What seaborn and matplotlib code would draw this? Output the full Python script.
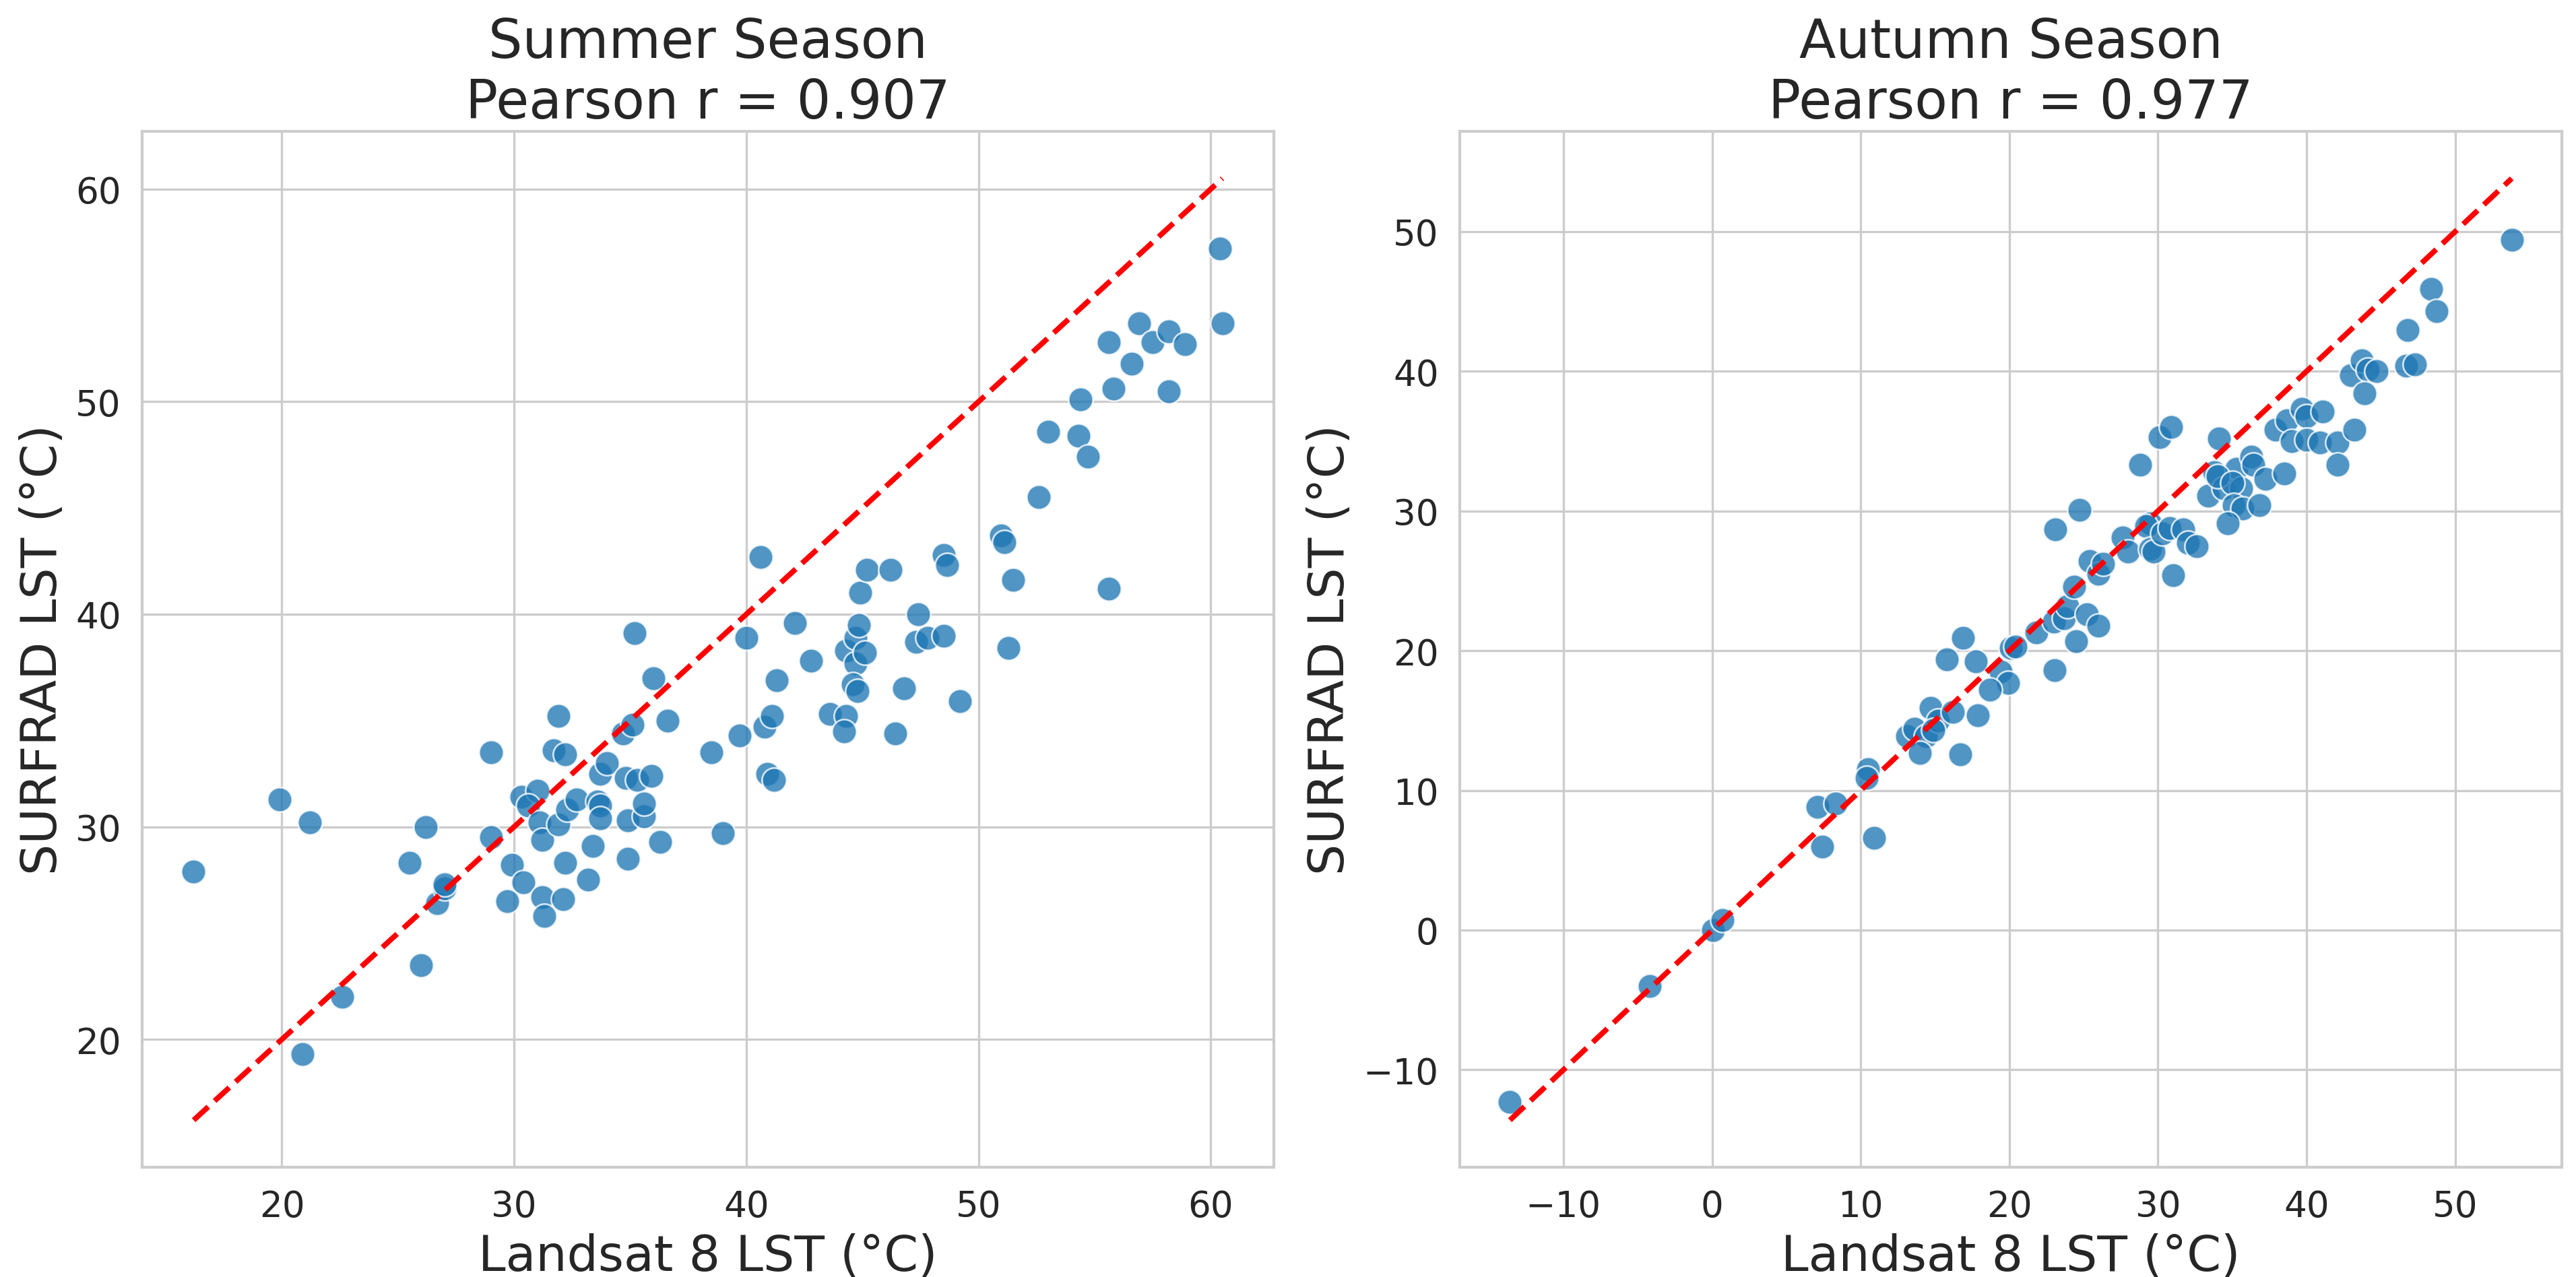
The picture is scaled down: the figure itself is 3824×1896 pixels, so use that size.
import matplotlib
matplotlib.use("Agg")
import matplotlib.pyplot as plt
import numpy as np
import pandas as pd
import seaborn as sns

# Summer season: Landsat 8 LST vs SURFRAD LST (deg C)
summer_landsat = [
    16.2, 19.9, 21.2, 20.9, 22.6, 25.5, 26.2, 26.0, 26.7, 27.0, 27.0,
    29.0, 29.0, 29.7, 29.9, 30.3, 30.4, 31.0, 30.6, 31.1, 31.2, 31.2,
    31.3, 31.7, 31.9, 32.2, 31.9, 32.2, 32.1, 32.3, 32.7, 33.2, 33.4,
    33.6, 33.7, 33.7, 33.7, 34.0, 34.7, 35.1, 34.8, 35.3, 34.9, 34.9,
    35.2, 35.6, 35.6, 35.9, 36.0, 36.3, 36.6, 38.5, 39.0, 39.7, 40.0,
    40.6, 40.8, 40.9, 41.2, 41.1, 41.3, 42.1, 42.8, 43.6, 44.3, 44.2,
    44.3, 44.7, 44.7, 45.1, 44.6, 44.8, 44.85, 44.9, 45.2, 46.2, 46.4,
    46.8, 47.4, 47.3, 47.8, 48.5, 48.65, 48.5, 49.2, 50.97, 51.1, 51.5,
    51.3, 52.6, 53.0, 54.3, 54.4, 54.7, 55.6, 55.6, 55.8, 56.6, 56.9,
    57.5, 58.2, 58.2, 58.9, 60.4, 60.5,
]
summer_surfrad = [
    27.9, 31.3, 30.2, 19.3, 22.0, 28.3, 30.0, 23.5, 26.4, 27.1, 27.3,
    33.5, 29.5, 26.5, 28.2, 31.4, 27.4, 31.7, 31.0, 30.2, 29.4, 26.7,
    25.8, 33.6, 35.2, 33.4, 30.1, 28.3, 26.6, 30.8, 31.3, 27.5, 29.1,
    31.2, 31.0, 30.4, 32.5, 33.0, 34.4, 34.8, 32.3, 32.2, 30.3, 28.5,
    39.1, 30.5, 31.1, 32.4, 37.0, 29.3, 35.0, 33.5, 29.7, 34.3, 38.9,
    42.7, 34.7, 32.5, 32.2, 35.2, 36.9, 39.6, 37.8, 35.3, 35.2, 34.5,
    38.3, 38.9, 37.7, 38.2, 36.7, 36.4, 39.5, 41.0, 42.1, 42.1, 34.4,
    36.5, 40.0, 38.7, 38.9, 42.8, 42.3, 39.0, 35.9, 43.7, 43.4, 41.6,
    38.4, 45.5, 48.6, 48.4, 50.1, 47.4, 41.2, 52.8, 50.6, 51.8, 53.7,
    52.8, 53.3, 50.5, 52.7, 57.2, 53.7,
]

# Autumn season
autumn_landsat = [
    -13.6, -4.2, 0.05, 0.7, 7.1, 8.3, 7.4, 10.5, 10.4, 10.9, 13.1,
    13.6, 14.4, 14.0, 14.7, 15.2, 14.9, 16.2, 17.9, 16.7, 15.8, 16.9,
    17.75, 19.4, 19.9, 18.7, 20.1, 20.4, 21.8, 23.05, 23.0, 23.7, 23.9,
    24.35, 24.5, 25.2, 26.0, 25.4, 26.0, 26.3, 23.1, 24.7, 27.6, 28.0,
    28.8, 29.5, 29.2, 29.5, 29.7, 30.3, 30.8, 31.7, 32.0, 32.6, 31.0,
    30.1, 30.9, 34.1, 33.8, 33.4, 35.3, 36.3, 36.4, 34.4, 35.6, 34.0,
    35.0, 37.25, 38.5, 35.1, 35.7, 36.8, 34.7, 37.9, 38.7, 39.7, 40.0,
    39.0, 40.0, 40.9, 41.1, 42.1, 43.2, 42.1, 43.0, 43.7, 44.1, 44.7,
    43.9, 46.8, 46.7, 47.3, 48.4, 48.75, 53.8,
]
autumn_surfrad = [
    -12.3, -4.0, 0.0, 0.7, 8.8, 9.05, 6.0, 11.5, 10.9, 6.6, 13.9,
    14.4, 13.9, 12.7, 15.9, 15.0, 14.3, 15.6, 15.4, 12.6, 19.4, 20.9,
    19.25, 18.5, 17.7, 17.2, 20.2, 20.3, 21.3, 18.6, 22.1, 22.3, 23.2,
    24.6, 20.7, 22.6, 21.8, 26.4, 25.5, 26.2, 28.7, 30.1, 28.1, 27.1,
    33.3, 29.1, 28.9, 27.3, 27.1, 28.4, 28.8, 28.7, 27.7, 27.5, 25.4,
    35.3, 36.0, 35.2, 32.8, 31.1, 33.0, 33.9, 33.3, 31.6, 31.6, 32.5,
    32.0, 32.3, 32.7, 30.4, 30.2, 30.4, 29.1, 35.8, 36.5, 37.3, 36.8,
    35.0, 35.1, 34.9, 37.1, 34.9, 35.8, 33.3, 39.7, 40.8, 40.1, 40.0,
    38.4, 42.95, 40.4, 40.5, 45.9, 44.3, 49.4,
]

titles = ["Summer Season\nPearson r = 0.907", "Autumn Season\nPearson r = 0.977"]
xlabel = "Landsat 8 LST (°C)"
ylabel = "SURFRAD LST (°C)"

sns.set_theme(style="whitegrid")
fig = plt.figure(figsize=(16, 7.937), dpi=239)
ax_left = fig.add_axes([0.0552, 0.0859, 0.4393, 0.8108])
ax_right = fig.add_axes([0.5667, 0.0859, 0.4278, 0.8108])

datasets = [
    (summer_landsat, summer_surfrad),
    (autumn_landsat, autumn_surfrad),
]

for ax, (xs, ys), title in zip([ax_left, ax_right], datasets, titles):
    df = pd.DataFrame({"landsat": xs, "surfrad": ys})
    sns.scatterplot(data=df, x="landsat", y="surfrad", ax=ax,
                    s=120, alpha=0.78, color="#1f77b4", edgecolor="white", linewidth=0.8)
    # 1:1 reference line over the full data range
    lo = min(df["landsat"].min(), df["surfrad"].min())
    hi = max(df["landsat"].max(), df["surfrad"].max())
    ax.plot([lo, hi], [lo, hi], linestyle="--", color="red", linewidth=2.4)
    ax.set_title(title, fontsize=24)
    ax.set_xlabel(xlabel, fontsize=22)
    ax.set_ylabel(ylabel, fontsize=22)
    ax.tick_params(labelsize=16)

fig.savefig("out.png", dpi=239)
